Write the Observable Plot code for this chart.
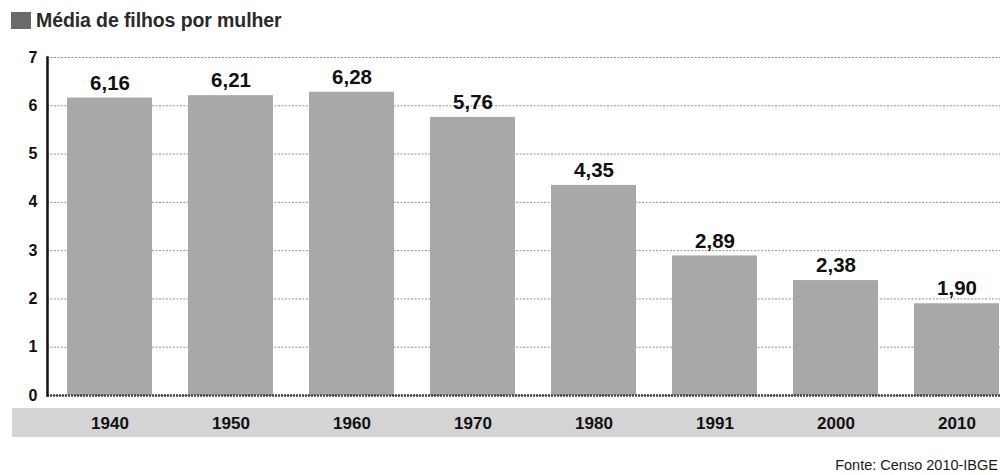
<!DOCTYPE html>
<html>
<head>
<meta charset="utf-8">
<script src="https://cdn.jsdelivr.net/npm/d3@7"></script>
<script src="https://cdn.jsdelivr.net/npm/@observablehq/plot@0.6"></script>
<style>
  html, body { margin: 0; padding: 0; background: #fff; overflow: hidden; }
  #wrap { position: relative; width: 1000px; height: 475px; overflow: hidden; font-family: "Liberation Sans", Arial, sans-serif; }
  #band { position: absolute; left: 12px; top: 408px; width: 990px; height: 29px; background: #d4d4d4; }
  #title { position: absolute; left: 11px; top: 9px; font-weight: bold; font-size: 19.5px; line-height: 22px; color: #2a2a2a; display: flex; align-items: center; letter-spacing: -0.1px; }
  #title .sw { display: inline-block; width: 20px; height: 17px; background: #6a6a6a; margin-right: 5px; }
  #foot { position: absolute; right: 2px; top: 457px; font-size: 14.5px; color: #1a1a1a; }
  #chart { position: absolute; left: 0; top: 0; }
  #chart svg { background: transparent !important; }
</style>
</head>
<body>
<div id="wrap">
  <div id="band"></div>
  <div id="chart"></div>
  <div id="title"><span class="sw"></span>Média de filhos por mulher</div>
  <div id="foot">Fonte: Censo 2010-IBGE</div>
</div>
<script>
const years = ["1940", "1950", "1960", "1970", "1980", "1991", "2000", "2010"];
const values = [6.16, 6.21, 6.28, 5.76, 4.35, 2.89, 2.38, 1.90];
const yTicks = [0, 1, 2, 3, 4, 5, 6, 7];

const data = years.map((y, i) => ({year: y, value: values[i]}));
const fmt = v => v.toFixed(2).replace(".", ",");

const chart = Plot.plot({
  width: 1000,
  height: 475,
  marginTop: 57,
  marginBottom: 80,
  marginLeft: 47,
  marginRight: 0,
  style: {background: "transparent", fontFamily: "Liberation Sans, Arial, sans-serif"},
  x: {type: "band", domain: years, range: [49, 1017], paddingInner: 0.3, paddingOuter: 0.15, label: null},
  y: {domain: [0, 7], label: null},
  marks: [
    Plot.gridY(yTicks, {stroke: "#777", strokeOpacity: 0.8, strokeDasharray: "2,1.5", strokeWidth: 1}),
    Plot.barY(data, {x: "year", y: "value", fill: "#a8a8a8"}),
    Plot.ruleY([0], {stroke: "#444", strokeWidth: 2.5, strokeDasharray: "2,1"}),
    Plot.frame({anchor: "left", stroke: "#111", strokeWidth: 2.5}),
    Plot.text(data, {x: "year", y: "value", text: d => fmt(d.value), dy: -15, fontSize: 20.5, fontWeight: "bold", fill: "#111"}),
    Plot.axisY(yTicks, {tickSize: 0, tickPadding: 10, fontSize: 16, fontWeight: "bold", tickFormat: d => d, fill: "#111", label: null}),
    Plot.axisX({tickSize: 0, tickPadding: 21, fontSize: 17, fontWeight: "bold", fill: "#111", label: null})
  ]
});
document.getElementById("chart").appendChild(chart);
</script>
</body>
</html>
